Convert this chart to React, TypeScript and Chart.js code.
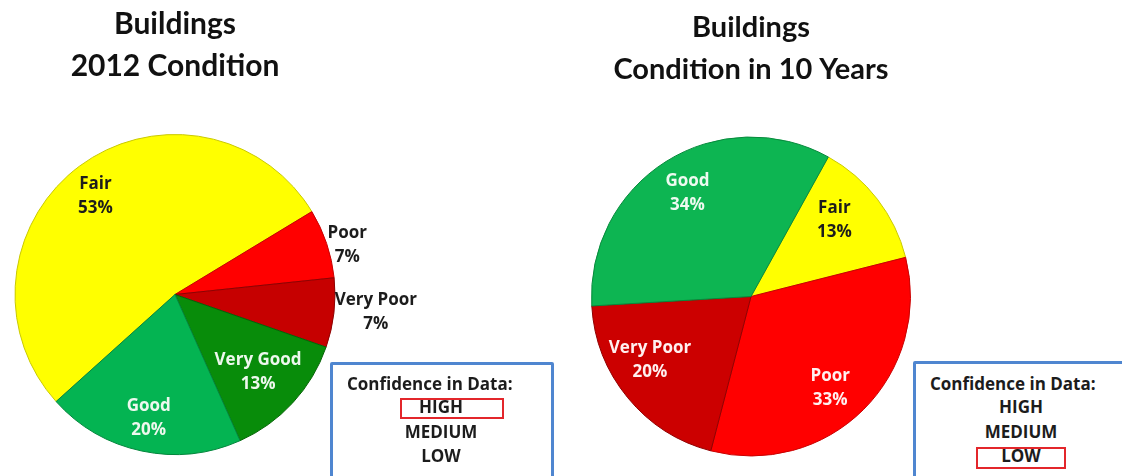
import React, { useEffect, useRef } from "react";
import { Chart, registerables } from "chart.js";

Chart.register(...registerables);

// ---- data ----
const leftTitle = ["Buildings", "2012 Condition"];
const leftCategories = ["Fair", "Poor", "Very Poor", "Very Good", "Good"];
const leftValues = [53, 7, 7, 13, 20];

const rightTitle = ["Buildings", "Condition in 10 Years"];
const rightCategories = ["Fair", "Poor", "Very Poor", "Good"];
const rightValues = [13, 33, 20, 34];

const confidenceHeading = "Confidence in Data:";
const confidenceLevels = ["HIGH", "MEDIUM", "LOW"];
const leftConfidence = "HIGH";
const rightConfidence = "LOW";

// ---- styles ----
const leftColors = ["#FFFF00", "#FF0000", "#C60000", "#088C0A", "#04B452"];
const leftBorders = ["#C9C900", "#C80000", "#8E0000", "#056305", "#03863C"];
const leftLabelColors = ["#1c1c1c", "#1c1c1c", "#1c1c1c", "#EEF8EE", "#EEF8EE"];
const leftPlace = [
  { r: 0.79, da: -2.4 },
  { r: 1.12, da: 2.6 },
  { r: 1.26, da: -1.6 },
  { r: 0.71, da: 0.4 },
  { r: 0.79, da: 0 },
];

const rightColors = ["#FFFF00", "#FF0000", "#CC0000", "#0DB552"];
const rightBorders = ["#C9C900", "#C80000", "#900000", "#078A3C"];
const rightLabelColors = ["#1c1c1c", "#FFF0F0", "#FFF0F0", "#EEFAF0"];
const rightPlace = [
  { r: 0.71, da: -5 },
  { r: 0.76, da: 4 },
  { r: 0.75, da: 7 },
  { r: 0.76, da: 0.6 },
];

const LABEL_FONT = "bold 17px 'Open Sans'";
const TITLE_FONT_FAMILY = "Lato";

const sliceLabels = {
  id: "sliceLabels",
  afterDatasetsDraw(chart: any, _args: any, opts: any) {
    const { ctx } = chart;
    const meta = chart.getDatasetMeta(0);
    const labels = chart.data.labels as string[];
    const data = chart.data.datasets[0].data as number[];
    meta.data.forEach((arc: any, i: number) => {
      const { x, y, startAngle, endAngle, outerRadius } = arc.getProps(
        ["x", "y", "startAngle", "endAngle", "outerRadius"],
        true
      );
      const p = opts.place[i];
      const a = (startAngle + endAngle) / 2 + (p.da * Math.PI) / 180;
      const r = outerRadius * p.r;
      const cx = x + Math.cos(a) * r;
      const cy = y + Math.sin(a) * r;
      ctx.save();
      ctx.font = LABEL_FONT;
      ctx.fillStyle = opts.colors[i];
      ctx.textAlign = "center";
      ctx.textBaseline = "middle";
      ctx.fillText(labels[i], cx, cy - 12);
      ctx.fillText(`${data[i]}%`, cx, cy + 12);
      ctx.restore();
    });
  },
};

function makeConfig(
  title: string[],
  titleSize: number,
  labels: string[],
  values: number[],
  colors: string[],
  borders: string[],
  labelColors: string[],
  place: any[],
  rotation: number,
  titlePad: { top: number; bottom: number },
  layoutPad: { left: number; right: number; top: number; bottom: number }
): any {
  return {
    type: "pie",
    data: {
      labels,
      datasets: [
        {
          data: values,
          backgroundColor: colors,
          borderColor: borders,
          borderWidth: 1,
        },
      ],
    },
    options: {
      animation: false,
      responsive: false,
      rotation,
      layout: { padding: layoutPad },
      plugins: {
        legend: { display: false },
        tooltip: { enabled: false },
        title: {
          display: true,
          text: title,
          color: "#111111",
          font: { family: TITLE_FONT_FAMILY, size: titleSize, weight: "bold", lineHeight: 42 / titleSize },
          padding: titlePad,
        },
        sliceLabels: { place, colors: labelColors },
      },
    },
    plugins: [sliceLabels],
  };
}

function PieCanvas(props: { config: any; left: number; width: number }) {
  const ref = useRef<HTMLCanvasElement | null>(null);
  useEffect(() => {
    if (!ref.current) return;
    const chart = new Chart(ref.current, props.config);
    return () => chart.destroy();
  }, []);
  return (
    <canvas
      ref={ref}
      width={props.width}
      height={476}
      style={{ position: "absolute", left: props.left, top: 0, width: props.width, height: 476 }}
    />
  );
}

function ConfidenceBox(props: {
  left: number;
  top: number;
  width: number;
  center: number;
  hl: { x: number; y: number; w: number; h: number };
}) {
  const rowsY = [407, 432, 456];
  const textStyle: React.CSSProperties = {
    position: "absolute",
    font: LABEL_FONT,
    color: "#1c1c1c",
    whiteSpace: "nowrap",
    lineHeight: "20px",
  };
  return (
    <>
      <div
        style={{
          position: "absolute",
          left: props.left,
          top: props.top,
          width: props.width,
          height: 140,
          border: "3px solid #4F86D0",
          boxSizing: "border-box",
          borderRadius: 2,
        }}
      />
      <div style={{ ...textStyle, left: props.left + 17, top: 384 - 10 }}>{confidenceHeading}</div>
      {confidenceLevels.map((lv, i) => (
        <div
          key={lv}
          style={{
            ...textStyle,
            left: props.center - 60,
            width: 120,
            textAlign: "center",
            top: rowsY[i] - 10,
          }}
        >
          {lv}
        </div>
      ))}
      <div
        style={{
          position: "absolute",
          left: props.hl.x,
          top: props.hl.y,
          width: props.hl.w,
          height: props.hl.h,
          border: "2px solid #E3262B",
          boxSizing: "border-box",
        }}
      />
    </>
  );
}

export default function App() {
  const leftConfig = makeConfig(
    leftTitle,
    30,
    leftCategories,
    leftValues,
    leftColors,
    leftBorders,
    leftLabelColors,
    leftPlace,
    228,
    { top: 3, bottom: 47 },
    { left: 0, right: 100, top: 0, bottom: 21 }
  );
  const rightConfig = makeConfig(
    rightTitle,
    29,
    rightCategories,
    rightValues,
    rightColors,
    rightBorders,
    rightLabelColors,
    rightPlace,
    29,
    { top: 7, bottom: 45 },
    { left: 0, right: 0, top: 0, bottom: 19 }
  );
  const leftIdx = confidenceLevels.indexOf(leftConfidence);
  const rightIdx = confidenceLevels.indexOf(rightConfidence);
  const hlY = [398, 423, 447];
  return (
    <div
      style={{
        position: "absolute",
        left: 0,
        top: 0,
        width: 1122,
        height: 476,
        overflow: "hidden",
        background: "#ffffff",
      }}
    >
      <PieCanvas config={leftConfig} left={0} width={450} />
      <PieCanvas config={rightConfig} left={591} width={320} />
      <ConfidenceBox
        left={330}
        top={362}
        width={224}
        center={441}
        hl={{ x: 400, y: hlY[leftIdx], w: 104, h: 21 }}
      />
      <ConfidenceBox
        left={913}
        top={361}
        width={240}
        center={1021}
        hl={{ x: 976, y: hlY[rightIdx], w: 90, h: 22 }}
      />
    </div>
  );
}
